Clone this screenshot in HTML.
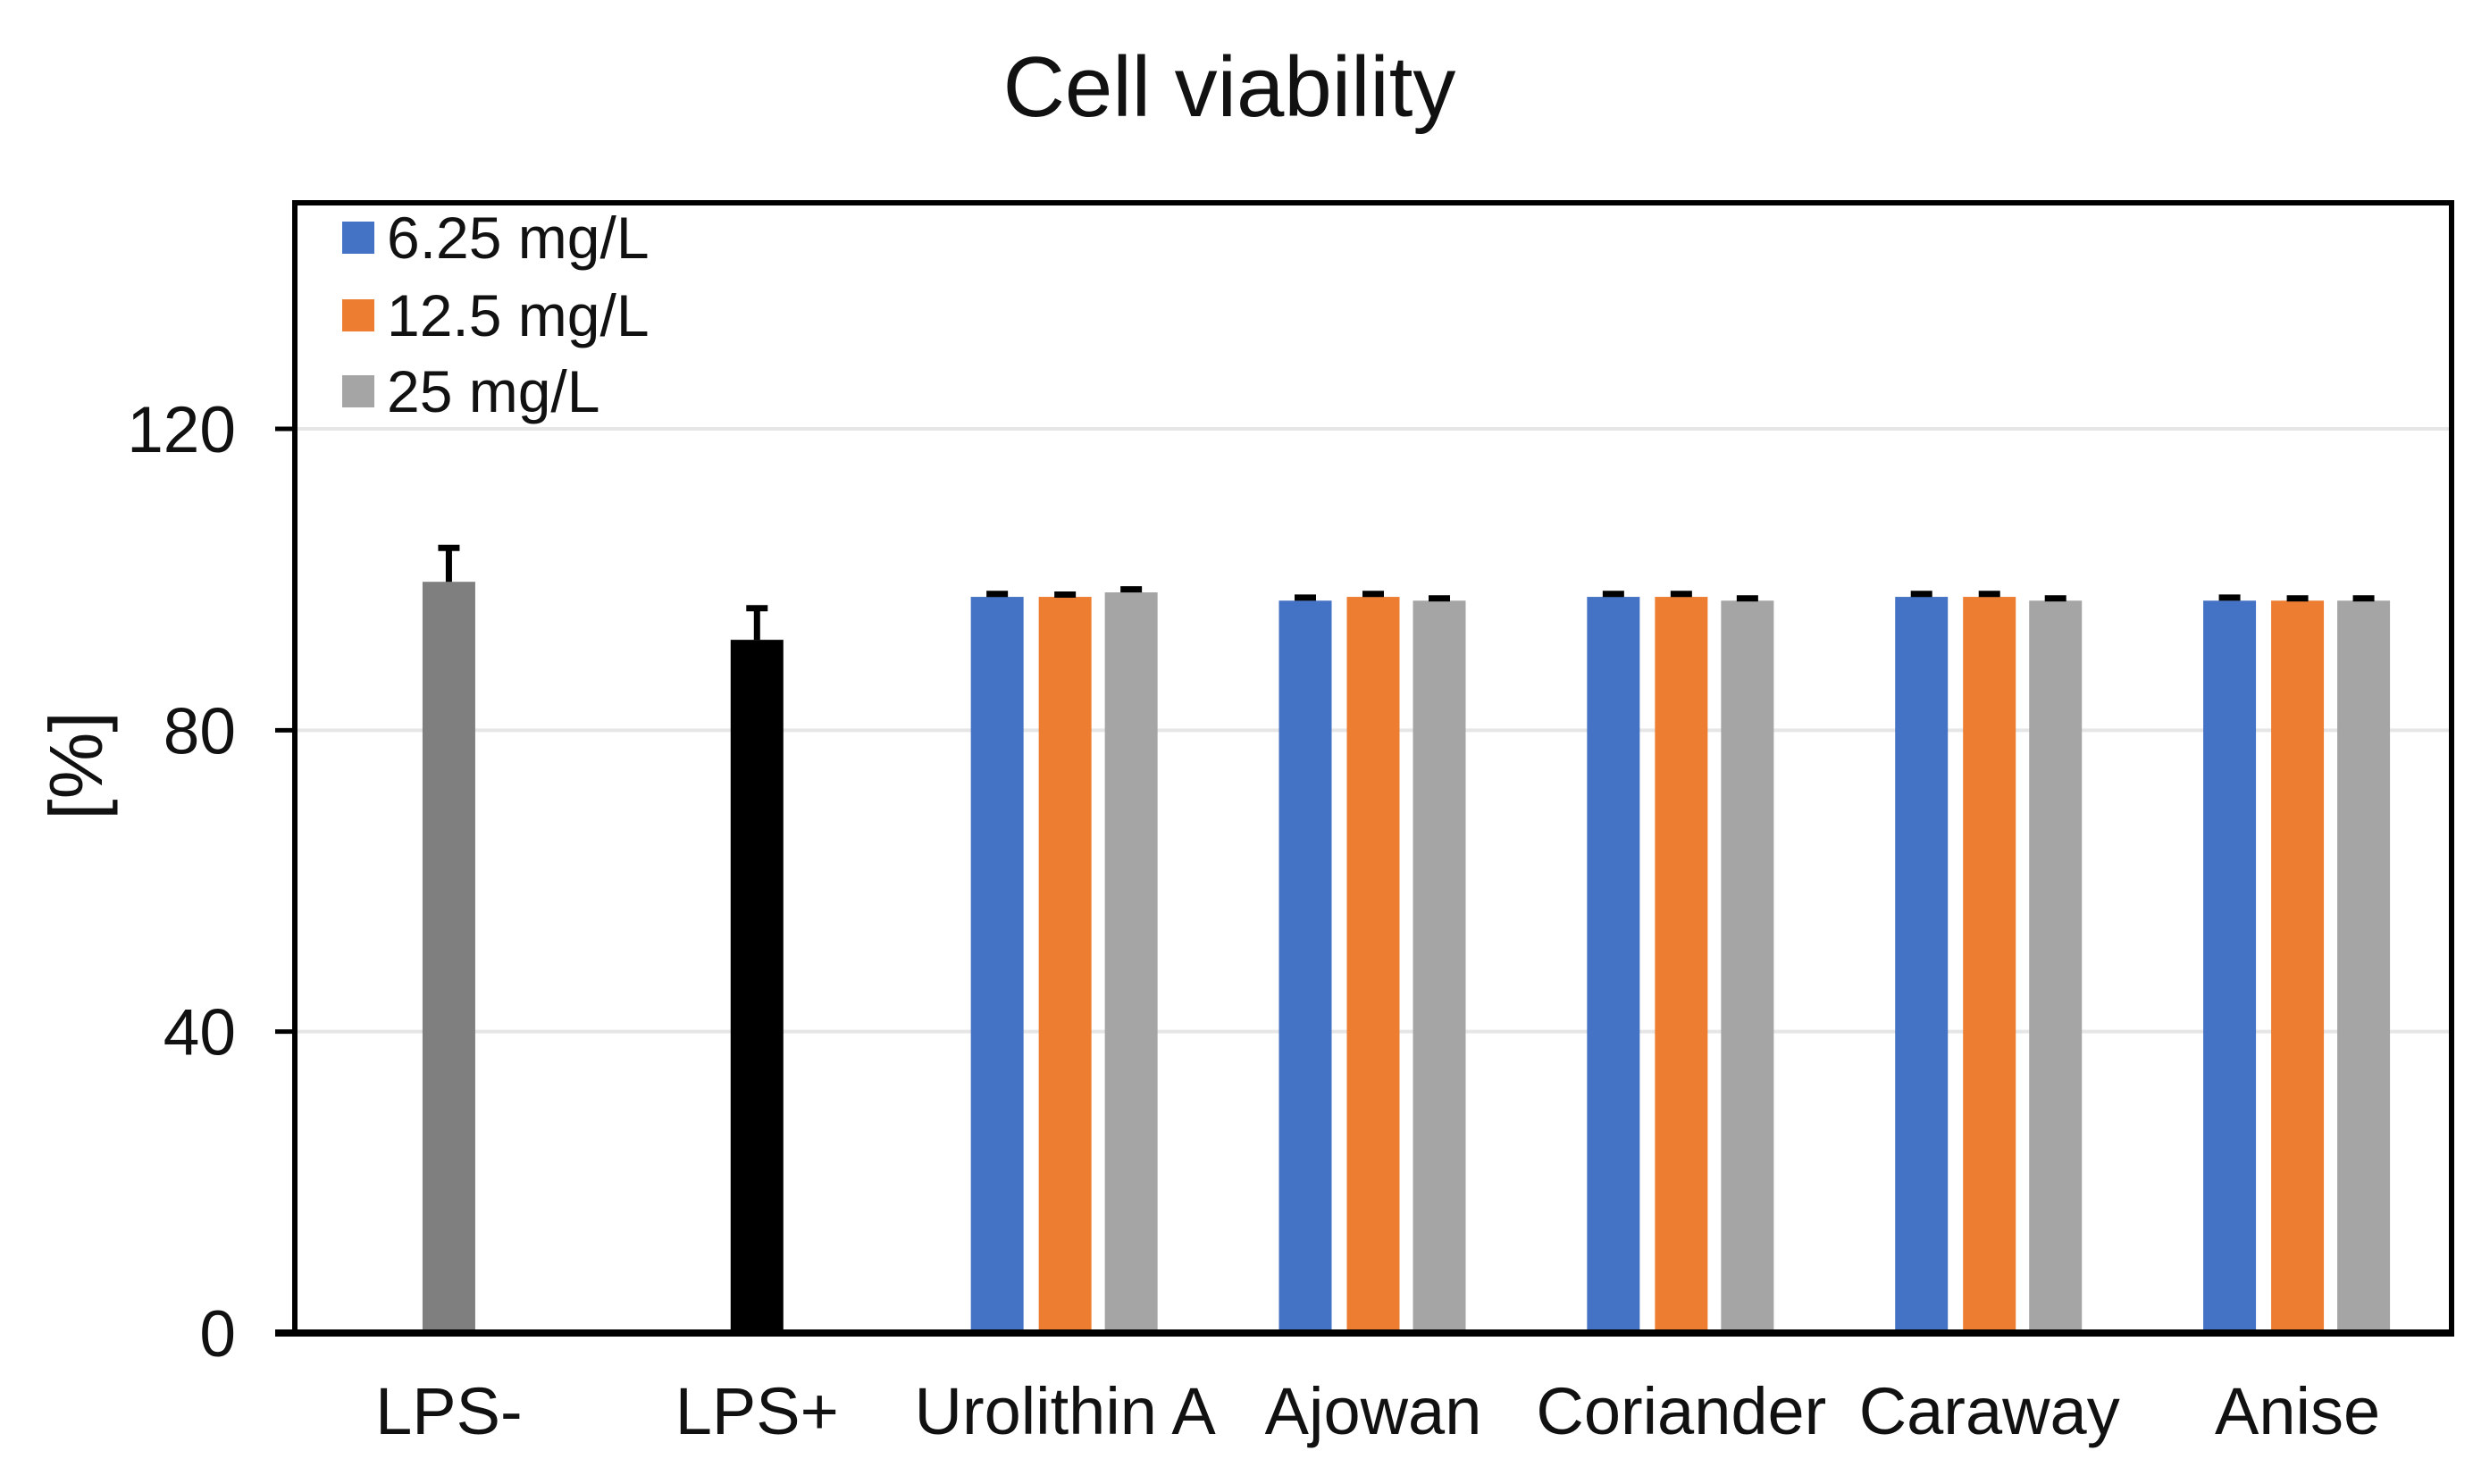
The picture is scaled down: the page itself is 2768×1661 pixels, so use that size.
<!DOCTYPE html>
<html><head><meta charset="utf-8"><style>
body{margin:0;background:#fff}
svg text{font-family:"Liberation Sans",Arial,sans-serif;fill:#111}
</style></head><body>
<svg id="chart" width="2768" height="1656" viewBox="0 0 2768 1656" xmlns="http://www.w3.org/2000/svg">
<text x="1376" y="130" font-size="96" text-anchor="middle">Cell viability</text>
<text x="0" y="0" font-size="84" text-anchor="middle" transform="translate(114,857) rotate(-90)">[%]</text>
<g id="grid"></g><g id="bars"></g><g id="axes"></g>
<g>
<rect x="383" y="248" width="36" height="36" fill="#4472C4"/>
<text x="433" y="289" font-size="66">6.25 mg/L</text>
<rect x="383" y="335" width="36" height="36" fill="#ED7D31"/>
<text x="433" y="376" font-size="66">12.5 mg/L</text>
<rect x="383" y="420" width="36" height="36" fill="#A5A5A5"/>
<text x="433" y="461" font-size="66">25 mg/L</text>
</g>
</svg>
<script>
const categories=["LPS-","LPS+","Urolithin A","Ajowan","Coriander","Caraway","Anise"];
const controlValues=[99.7,92];
const controlErrors=[4.5,4.2];
const s1Values=[97.7,97.2,97.7,97.7,97.2];
const s2Values=[97.7,97.7,97.7,97.7,97.2];
const s3Values=[98.3,97.2,97.2,97.2,97.2];
const s1Errors=[0.4,0.4,0.4,0.4,0.4];
const s2Errors=[0.3,0.4,0.4,0.4,0.3];
const s3Errors=[0.4,0.3,0.3,0.3,0.3];
const yTicks=[0,40,80,120];
const NS="http://www.w3.org/2000/svg";
const L=330,R=2744,T=227,B=1492,YMAX=150;
const y=v=>B-(v/YMAX)*(B-T);
const step=(R-L)/categories.length;
const cx=i=>L+step*(i+0.5);
function mk(tag,attrs,parent){const e=document.createElementNS(NS,tag);for(const k in attrs)e.setAttribute(k,attrs[k]);document.getElementById(parent).appendChild(e);return e;}
yTicks.forEach(t=>{
 if(t>0){const g=mk('line',{x1:L,x2:R,y1:y(t),y2:y(t),stroke:'#e6e6e6','stroke-width':4},'grid');
 
 }
 const tk=mk('line',{x1:308,x2:L,y1:y(t),y2:y(t),stroke:'#000','stroke-width':5},'axes');
 
 
 const tl=mk('text',{x:264,y:y(t)+26,'font-size':73,'text-anchor':'end'},'axes');
 tl.textContent=t;
 
 
});
const BW=59;
function bar(x,v,err,col,name){
 const r=mk('rect',{x:x-BW/2,y:y(v),width:BW,height:B-y(v),fill:col},'bars');
 
 
 const e=mk('path',{d:`M${x},${y(v)}V${y(v+err)}M${x-12},${y(v+err)}H${x+12}`,stroke:'#000','stroke-width':7,fill:'none'},'bars');
 
 
}
const ctrlCols=['#7F7F7F','#000000'];
controlValues.forEach((v,i)=>bar(cx(i),v,controlErrors[i],ctrlCols[i],'bar-'+i));
const sets=[[s1Values,s1Errors,'#4472C4',-76],[s2Values,s2Errors,'#ED7D31',0],[s3Values,s3Errors,'#A5A5A5',74]];
for(let g=0;g<5;g++){sets.forEach((s,k)=>bar(cx(g+2)+s[3],s[0][g],s[1][g],s[2],'bar-'+(g+2)+'-s'+(k+1)));}
categories.forEach((c,i)=>{
 const t=mk('text',{x:cx(i),y:1605,'font-size':74,'text-anchor':'middle'},'axes');
 t.textContent=c;
 
 
});
const fr=mk('path',{d:`M${L},${B}V${T}H${R}V${B}`,stroke:'#000','stroke-width':6,fill:'none'},'axes');


const xa=mk('line',{x1:308,x2:R+3,y1:B,y2:B,stroke:'#000','stroke-width':8},'axes');


</script>
</body></html>
